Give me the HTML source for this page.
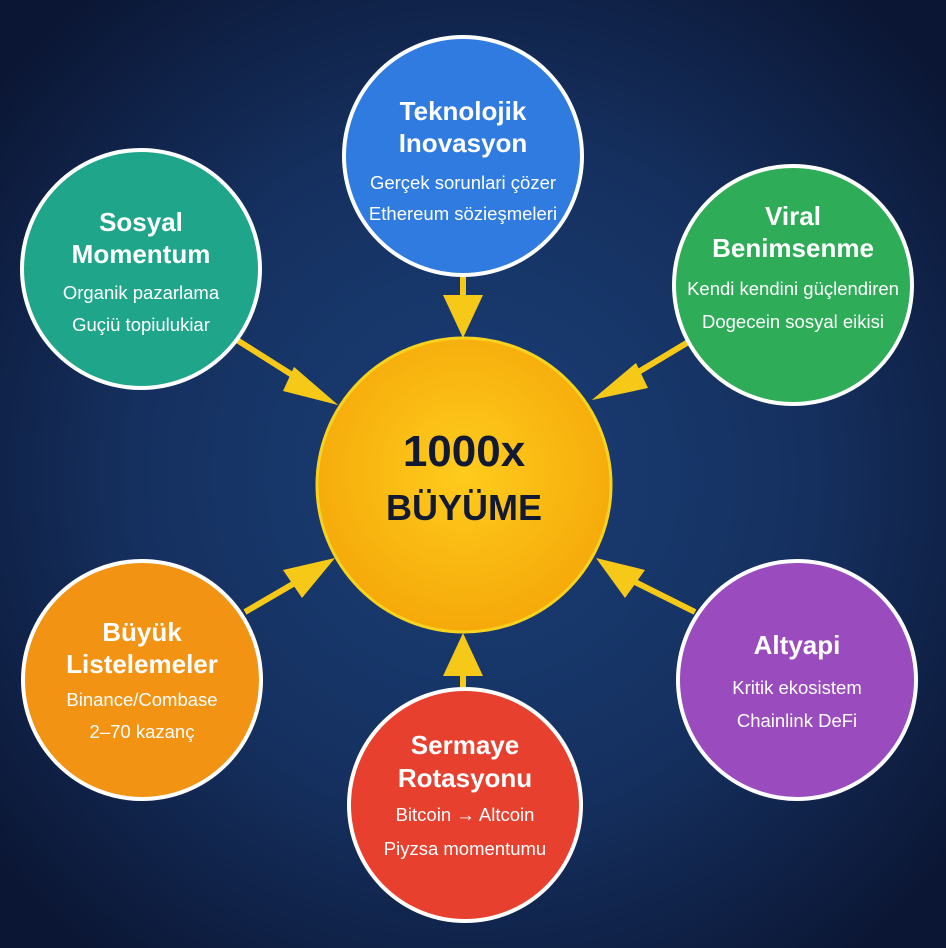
<!DOCTYPE html>
<html><head><meta charset="utf-8"><style>
html,body{margin:0;padding:0;width:946px;height:948px;overflow:hidden;background:#0d1a3a}
svg{display:block}
text{font-family:"Liberation Sans","DejaVu Sans",sans-serif;text-anchor:middle}
.t{font-weight:bold;font-size:26px;fill:#fff}
.s{font-size:18.5px;fill:#fff}
</style></head><body>
<svg width="946" height="948" viewBox="0 0 946 948" xmlns="http://www.w3.org/2000/svg">
<defs>
<radialGradient id="bg" cx="50%" cy="50%" r="65%">
<stop offset="0" stop-color="#1a3f78"/><stop offset="0.55" stop-color="#15305f"/><stop offset="1" stop-color="#0b1634"/>
</radialGradient>
<radialGradient id="sun" cx="50%" cy="45%" r="55%">
<stop offset="0" stop-color="#ffcc1c"/><stop offset="1" stop-color="#f5a90a"/>
</radialGradient>
</defs>
<rect width="946" height="948" fill="url(#bg)"/>
<g fill="#f6c919" stroke="#f6c919">
<line x1="463" y1="276" x2="463" y2="300" stroke-width="6"/>
<polygon points="443,295 483,295 463,338" stroke="none"/>
<line x1="237" y1="340" x2="305" y2="383" stroke-width="6"/>
<polygon points="294,367 338,405 314,398" stroke="none"/>
<polygon points="294,367 338,405 283,391" stroke="none"/>
<line x1="695" y1="338" x2="625" y2="380" stroke-width="6"/>
<polygon points="636,363 592,400 612,393" stroke="none"/>
<polygon points="636,363 592,400 648,388" stroke="none"/>
<line x1="245" y1="612" x2="305" y2="577" stroke-width="6"/>
<polygon points="335,558 283,570 302,598" stroke="none"/>
<line x1="695" y1="612" x2="625" y2="577" stroke-width="6"/>
<polygon points="596,558 645,570 625,598" stroke="none"/>
<line x1="463" y1="697" x2="463" y2="665" stroke-width="6"/>
<polygon points="443,676 483,676 463,633" stroke="none"/>
</g>
<circle cx="464" cy="485" r="147" fill="url(#sun)" stroke="#f7d21e" stroke-width="3"/>
<text x="464" y="466" style="font-weight:bold;font-size:44px;fill:#121a33">1000x</text>
<text x="464" y="520" style="font-weight:bold;font-size:36px;fill:#121a33">BÜYÜME</text>

<circle cx="463" cy="156" r="119" fill="#2f7be0" stroke="#fff" stroke-width="4"/>
<text class="t" x="463" y="120">Teknolojik</text>
<text class="t" x="463" y="152">Inovasyon</text>
<text class="s" x="463" y="189">Gerçek sorunlari çözer</text>
<text class="s" x="463" y="220">Ethereum sözieşmeleri</text>

<circle cx="141" cy="269" r="119" fill="#1fa58a" stroke="#fff" stroke-width="4"/>
<text class="t" x="141" y="231">Sosyal</text>
<text class="t" x="141" y="263">Momentum</text>
<text class="s" x="141" y="299">Organik pazarlama</text>
<text class="s" x="141" y="331">Guçiü topiulukiar</text>

<circle cx="793" cy="285" r="119" fill="#2eac58" stroke="#fff" stroke-width="4"/>
<text class="t" x="793" y="225">Viral</text>
<text class="t" x="793" y="257">Benimsenme</text>
<text class="s" x="793" y="295">Kendi kendini güçlendiren</text>
<text class="s" x="793" y="328">Dogecein sosyal eikisi</text>

<circle cx="142" cy="680" r="119" fill="#f39314" stroke="#fff" stroke-width="4"/>
<text class="t" x="142" y="641">Büyük</text>
<text class="t" x="142" y="673">Listelemeler</text>
<text class="s" x="142" y="706">Binance/Combase</text>
<text class="s" x="142" y="738">2–70 kazanç</text>

<circle cx="797" cy="680" r="119" fill="#9a4cbf" stroke="#fff" stroke-width="4"/>
<text class="t" x="797" y="654">Altyapi</text>
<text class="s" x="797" y="694">Kritik ekosistem</text>
<text class="s" x="797" y="727">Chainlink DeFi</text>

<circle cx="465" cy="805" r="116" fill="#e8402e" stroke="#fff" stroke-width="4"/>
<text class="t" x="465" y="754">Sermaye</text>
<text class="t" x="465" y="787">Rotasyonu</text>
<text class="s" x="465" y="821">Bitcoin → Altcoin</text>
<text class="s" x="465" y="855">Piyzsa momentumu</text>
</svg>
</body></html>
